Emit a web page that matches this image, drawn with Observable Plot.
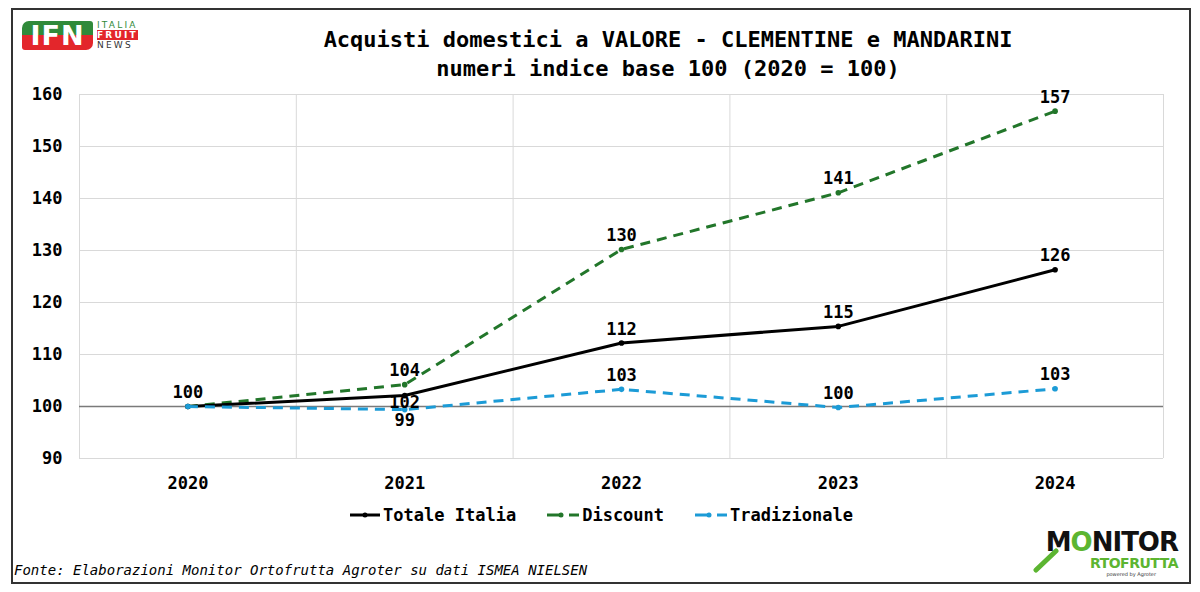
<!DOCTYPE html>
<html>
<head>
<meta charset="utf-8">
<script src="https://cdn.jsdelivr.net/npm/d3@7"></script>
<script src="https://cdn.jsdelivr.net/npm/@observablehq/plot@0.6"></script>
<style>
  html, body { margin: 0; padding: 0; background: #fff; }
  #wrap { position: relative; width: 1200px; height: 592px; background: #fff; overflow: hidden; font-family: "DejaVu Sans Mono", monospace; }
  #border { position: absolute; left: 11px; top: 8px; width: 1176px; height: 572px; border: 2px solid #333; box-sizing: content-box; }
  #chart { position: absolute; left: 0; top: 0; }
  #chart svg text { font-weight: bold; }
  #title { position: absolute; left: 268px; width: 800px; top: 25px; text-align: center; font-weight: bold; font-size: 22px; line-height: 29px; color: #000; }
  #legend { position: absolute; top: 505px; left: 0; width: 1200px; display: flex; justify-content: center; gap: 30px; font-weight: bold; font-size: 17px; color: #000; padding-left: 2px; box-sizing: border-box; }
  #legend .item { display: flex; align-items: center; }
  #legend svg { display: block; margin-right: 2px; }
  #caption { position: absolute; left: 14px; top: 562px; font-style: italic; font-size: 14px; color: #000; }
  #ifn { position: absolute; left: 22px; top: 21px; width: 71px; height: 29px; border-radius: 7px 3px 7px 3px; background: linear-gradient(#2f8a3a 0 50%, #e3262b 50% 100%); color: #fff; font-family: "DejaVu Sans", sans-serif; font-weight: bold; font-size: 27px; line-height: 29px; text-align: center; letter-spacing: 1px; }
  #ifn2 { position: absolute; left: 97px; top: 20px; font-family: "DejaVu Sans", sans-serif; font-size: 9px; line-height: 10px; letter-spacing: 2.2px; color: #2f8a3a; }
  #ifn2 .r { background: #e3262b; color: #fff; font-weight: bold; }
  #ifn2 .n { color: #333; }
  #mon { position: absolute; left: 1024px; top: 529px; width: 154px; font-family: "DejaVu Sans", sans-serif; font-weight: bold; text-align: right; }
  #mon .a { font-size: 26px; line-height: 27px; height: 27px; color: #111; letter-spacing: -1px; }
  #mon .a span { color: #5cb531; }
  #mon .b { font-size: 14px; line-height: 15px; height: 15px; color: #5cb531; letter-spacing: -0.5px; }
  #mon .c { font-size: 5px; line-height: 6px; color: #333; font-weight: normal; padding-right: 22px; }
  #handle { position: absolute; left: 1030px; top: 548px; }
</style>
</head>
<body>
<div id="wrap">
  <div id="chart"></div>
  <div id="border"></div>
  <div id="ifn">IFN</div>
  <div id="ifn2">ITALIA<br><span class="r">FRUIT</span><br><span class="n">NEWS</span></div>
  <div id="title">Acquisti domestici a VALORE - CLEMENTINE e MANDARINI<br>numeri indice base 100 (2020 = 100)</div>
  <div id="legend"></div>
  <div id="caption">Fonte: Elaborazioni Monitor Ortofrutta Agroter su dati ISMEA NIELSEN</div>
  <div id="mon"><div class="a">M<span>O</span>NITOR</div><div class="b">RTOFRUTTA</div><div class="c">powered by Agroter</div></div>
  <svg id="handle" width="30" height="26"><line x1="26" y1="3" x2="6" y2="22" stroke="#5cb531" stroke-width="5" stroke-linecap="round"/></svg>
</div>
<script>
// ---- data ----
const years = ["2020", "2021", "2022", "2023", "2024"];
const totaleItalia = [100, 102.1, 112.2, 115.4, 126.3];
const discount = [100, 104.2, 130.2, 141.1, 156.8];
const tradizionale = [100, 99.4, 103.3, 99.8, 103.4];
const seriesNames = ["Totale Italia", "Discount", "Tradizionale"];
const yTicks = [90, 100, 110, 120, 130, 140, 150, 160];

// ---- styles ----
const colors = {"Totale Italia": "#000000", "Discount": "#22762a", "Tradizionale": "#1c9bd6"};
const dashes = {"Totale Italia": null, "Discount": "10,7", "Tradizionale": "10,7"};

const seriesValues = {"Totale Italia": totaleItalia, "Discount": discount, "Tradizionale": tradizionale};
const drawOrder = ["Discount", "Totale Italia", "Tradizionale"];
const rows = drawOrder.flatMap(s => seriesValues[s].map((v, i) => ({series: s, i, year: years[i], value: v})));

const idx = years.map((_, i) => i);
const bounds = [-0.5, ...idx.map(i => i + 0.5)];

// label placement rule: default above; a few go below to avoid overlap; shared 2020 label once
const below = d => d.i === 1 && (d.series === "Tradizionale" || d.series === "Totale Italia");
const shown = d => !(d.i === 0 && d.series !== "Totale Italia");
const fmt = d => d3.format(".0f")(d.value);

const marks = [
  Plot.ruleY(yTicks, {stroke: "#d9d9d9", strokeWidth: 1}),
  Plot.ruleX(bounds, {stroke: "#d9d9d9", strokeWidth: 1}),
  Plot.ruleY([100], {stroke: "#7a7a7a", strokeWidth: 1.5}),
];
for (const s of drawOrder) {
  const data = rows.filter(d => d.series === s);
  marks.push(Plot.line(data, {x: "i", y: "value", stroke: colors[s], strokeWidth: 3, strokeDasharray: dashes[s], strokeLinecap: "butt"}));
  marks.push(Plot.dot(data, {x: "i", y: "value", r: 2.8, fill: colors[s], stroke: "none"}));
}
marks.push(
  Plot.text(rows.filter(d => shown(d) && !below(d)), {x: "i", y: "value", text: fmt, dy: -14, fontSize: 17, fill: "#000"}),
  Plot.text(rows.filter(d => d.i === 1 && d.series === "Totale Italia"), {x: "i", y: "value", text: fmt, dy: 7, fontSize: 17, fill: "#000"}),
  Plot.text(rows.filter(d => d.i === 1 && d.series === "Tradizionale"), {x: "i", y: "value", text: fmt, dy: 11, fontSize: 17, fill: "#000"}),
  Plot.axisY(yTicks, {tickSize: 0, tickPadding: 17, fontSize: 17, fill: "#000", label: null}),
  Plot.axisX(idx, {tickSize: 0, tickPadding: 18, fontSize: 17, fill: "#000", tickFormat: i => years[i], label: null})
);

const chart = Plot.plot({
  width: 1200,
  height: 500,
  marginTop: 94,
  marginBottom: 42,
  marginLeft: 79,
  marginRight: 37,
  style: {fontFamily: "DejaVu Sans Mono, monospace", fontSize: "17px", background: "transparent", color: "#000"},
  x: {type: "linear", domain: [-0.5, 4.5], label: null},
  y: {type: "linear", domain: [90, 160], label: null},
  marks
});
document.getElementById("chart").appendChild(chart);

// ---- legend ----
const legend = document.getElementById("legend");
for (const s of seriesNames) {
  const item = document.createElement("div");
  item.className = "item";
  const dash = dashes[s];
  const svg = dash
    ? `<svg width="34" height="12"><line x1="1" y1="6" x2="15" y2="6" stroke="${colors[s]}" stroke-width="3"/><circle cx="15" cy="6" r="2.5" fill="${colors[s]}"/><line x1="23" y1="6" x2="33" y2="6" stroke="${colors[s]}" stroke-width="3"/></svg>`
    : `<svg width="32" height="12"><line x1="1" y1="6" x2="31" y2="6" stroke="${colors[s]}" stroke-width="3"/><circle cx="16" cy="6" r="2.5" fill="${colors[s]}"/></svg>`;
  item.innerHTML = svg + `<span>${s}</span>`;
  legend.appendChild(item);
}
</script>
</body>
</html>
